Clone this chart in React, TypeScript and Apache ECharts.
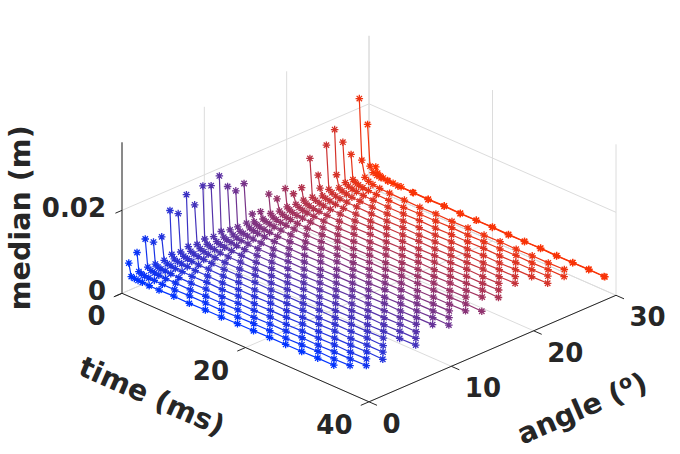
import React, { useEffect, useRef } from 'react';
import * as echarts from 'echarts';

// ---------------- data ----------------
const ANGLES = [0, 1, 2, 3, 4, 5, 6, 7, 8, 9, 10, 11, 12, 13, 14, 15, 16, 17, 18, 19, 20, 21, 22, 23, 24, 25, 26, 27, 28, 29, 30];

// two sampling grids (ms) used alternately by the lines
const TIMES_A = [1.1, 1.5, 2.0, 2.6, 3.3, 4.4, 6.0, 8.4, 10.9, 13.5, 16.1, 18.7, 21.3, 23.9, 26.5, 29.1, 31.7, 34.3, 36.9, 39.4];
const TIMES_B = [1.1, 1.4, 1.8, 2.3, 3.0, 3.9, 5.2, 7.2, 9.6, 12.2, 14.8, 17.4, 20.0, 22.6, 25.2, 27.8, 30.4, 33.0, 35.6, 38.2];
// which grid each angle uses (0 = A, 1 = B)
const TIME_GRID = [0, 1, 0, 1, 0, 1, 0, 1, 0, 1, 0, 1, 0, 1, 0, 1, 0, 1, 0, 1, 0, 1, 0, 1, 0, 1, 0, 1, 0, 0, 1];

// median values in mm, one row per angle
const MEDIAN_MM: number[][] = [
  [8.0, 5.0, 4.9, 4.8, 4.8, 4.7, 4.7, 4.8, 4.7, 4.8, 4.8, 4.9, 4.9, 5.0, 5.0, 5.0, 5.1, 5.1],
  [9.7, 5.3, 5.0, 4.9, 4.8, 4.8, 4.7, 4.7, 4.8, 4.8, 4.7, 4.8, 4.9, 4.9, 4.8, 4.9, 5.0, 4.9, 5.0],
  [12.1, 5.6, 5.1, 4.9, 4.8, 4.7, 4.7, 4.6, 4.7, 4.7, 4.8, 4.7, 4.8, 4.8, 4.9, 4.8, 4.9, 4.9, 5.0],
  [10.5, 5.4, 5.0, 4.8, 4.8, 4.7, 4.6, 4.6, 4.7, 4.6, 4.7, 4.7, 4.8, 4.7, 4.8, 4.8, 4.9, 4.8, 4.9],
  [10.9, 5.5, 5.0, 4.9, 4.7, 4.7, 4.6, 4.7, 4.6, 4.7, 4.6, 4.7, 4.7, 4.8, 4.7, 4.8, 4.8, 4.9, 4.8],
  [16.4, 6.0, 5.2, 4.9, 4.8, 4.7, 4.6, 4.6, 4.5, 4.6, 4.6, 4.7, 4.6, 4.7, 4.7, 4.8, 4.7, 4.8, 4.8],
  [14.8, 5.8, 5.1, 4.9, 4.7, 4.6, 4.6, 4.5, 4.6, 4.5, 4.6, 4.6, 4.7, 4.6, 4.7, 4.7, 4.8, 4.7],
  [18.5, 6.2, 5.3, 5.0, 4.8, 4.7, 4.6, 4.5, 4.5, 4.6, 4.5, 4.6, 4.6, 4.7, 4.6, 4.7, 4.7, 4.8],
  [15.2, 5.9, 5.2, 4.9, 4.7, 4.6, 4.5, 4.5, 4.6, 4.5, 4.6, 4.5, 4.6, 4.6, 4.7, 4.6, 4.7, 4.7, 4.8],
  [18.9, 6.3, 5.3, 5.0, 4.8, 4.6, 4.5, 4.5, 4.4, 4.5, 4.5, 4.6, 4.5, 4.6, 4.6, 4.7, 4.6, 4.7, 4.7],
  [18.1, 6.1, 5.2, 4.9, 4.7, 4.6, 4.5, 4.4, 4.5, 4.4, 4.5, 4.5, 4.6, 4.5, 4.6, 4.6, 4.7, 4.6],
  [19.6, 6.4, 5.3, 5.0, 4.8, 4.6, 4.5, 4.4, 4.4, 4.5, 4.4, 4.5, 4.5, 4.6, 4.5, 4.6, 4.6, 4.7],
  [16.2, 6.0, 5.1, 4.8, 4.6, 4.5, 4.4, 4.4, 4.5, 4.4, 4.5, 4.4, 4.5, 4.5, 4.6, 4.5, 4.6, 4.6],
  [14.3, 5.8, 5.0, 4.8, 4.6, 4.5, 4.4, 4.3, 4.4, 4.4, 4.3, 4.4, 4.4, 4.5, 4.4, 4.5, 4.5, 4.6, 4.5],
  [15.2, 5.9, 5.1, 4.8, 4.6, 4.5, 4.4, 4.3, 4.3, 4.4, 4.3, 4.4, 4.4, 4.5, 4.4, 4.5, 4.5, 4.6],
  [7.0, 5.3, 4.9, 4.7, 4.5, 4.4, 4.3, 4.3, 4.4, 4.3, 4.4, 4.3, 4.4, 4.4, 4.5, 4.4, 4.5, 4.5],
  [6.7, 5.2, 4.9, 4.7, 4.5, 4.4, 4.3, 4.2, 4.3, 4.3, 4.2, 4.3, 4.3, 4.4, 4.3, 4.4, 4.4, 4.5],
  [10.1, 5.6, 5.0, 4.7, 4.5, 4.4, 4.3, 4.2, 4.2, 4.3, 4.2, 4.3, 4.3, 4.4, 4.3, 4.4, 4.4, 4.5, 4.4],
  [8.1, 5.4, 4.9, 4.6, 4.5, 4.3, 4.2, 4.2, 4.3, 4.2, 4.3, 4.2, 4.3, 4.3, 4.4, 4.3, 4.4],
  [9.7, 5.5, 5.0, 4.7, 4.5, 4.4, 4.3, 4.2, 4.1, 4.2, 4.2, 4.3, 4.2, 4.3, 4.3, 4.4, 4.3, 4.4],
  [7.6, 5.3, 4.9, 4.6, 4.4, 4.3, 4.2, 4.1, 4.2, 4.1, 4.2, 4.2, 4.3, 4.2, 4.3, 4.3, 4.4, 4.3],
  [8.2, 5.4, 4.9, 4.6, 4.4, 4.3, 4.2, 4.1, 4.1, 4.2, 4.1, 4.2, 4.2, 4.3, 4.2, 4.3, 4.3, 4.4],
  [14.4, 5.3, 4.9, 4.6, 4.4, 4.3, 4.2, 4.1, 4.2, 4.1, 4.2, 4.1, 4.2, 4.2, 4.3, 4.2, 4.3],
  [9.5, 6.6, 5.0, 4.7, 4.5, 4.3, 4.2, 4.1, 4.0, 4.1, 4.1, 4.2, 4.1, 4.2, 4.2, 4.3, 4.2, 4.3],
  [15.9, 5.5, 5.0, 4.6, 4.4, 4.3, 4.2, 4.1, 4.0, 4.1, 4.0, 4.1, 4.1, 4.2, 4.1, 4.2, 4.2],
  [18.8, 8.1, 5.2, 4.8, 4.5, 4.3, 4.2, 4.1, 4.0, 4.0, 4.1, 4.0, 4.1, 4.1, 4.2, 4.1, 4.2, 4.2, 4.3],
  [14.9, 5.4, 4.9, 4.6, 4.4, 4.2, 4.1, 4.0, 4.0, 4.1, 4.0, 4.1, 4.1, 4.2, 4.1, 4.2, 4.2, 4.3],
  [11.1, 5.2, 4.8, 4.5, 4.3, 4.2, 4.1, 4.0, 3.9, 4.0, 4.0, 4.1, 4.0, 4.1, 4.1, 4.2, 4.1, 4.2, 4.2],
  [23.7, 9.1, 5.3, 4.7, 4.4, 4.2, 4.1, 4.0, 3.9, 4.0, 3.9, 4.0, 4.0, 4.1, 4.0, 4.1, 4.1, 4.2],
  [16.6, 6.8, 5.6, 5.3, 5.2, 5.1, 5.0, 5.0, 4.9, 5.0, 4.9, 5.0, 5.0, 4.9, 5.0, 5.0, 4.9, 5.0, 5.0, 5.0],
  [5.5, 4.2, 3.8, 3.6, 3.5, 3.4, 3.4, 3.3, 3.3, 3.4, 3.3, 3.3, 3.4, 3.3, 3.3, 3.4, 3.3, 3.3, 3.4, 3.3],
];

const TIME_TICKS = [0, 20, 40];
const ANGLE_TICKS = [0, 10, 20, 30];
const MEDIAN_TICKS = [0, 0.02];
const TIME_TICK_LABELS = ['0', '20', '40'];
const ANGLE_TICK_LABELS = ['0', '10', '20', '30'];
const MEDIAN_TICK_LABELS = ['0', '0.02'];

// ---------------- 3D box & view ----------------
const T_MAX = 40;
const A_MAX = 30;
const Z_MAX = 0.0364;
const W = 680;
const H = 454;
// orthographic view: screen vectors (u right, v up) of each full axis
const ORIGIN = [122, 160.7];
const T_VEC = [247, -108.5];
const A_VEC = [247, 106.5];
const Z_VEC = [0, 151];

function project(t: number, a: number, z: number): number[] {
  const tn = t / T_MAX;
  const an = a / A_MAX;
  const zn = z / Z_MAX;
  return [
    ORIGIN[0] + tn * T_VEC[0] + an * A_VEC[0] + zn * Z_VEC[0],
    ORIGIN[1] + tn * T_VEC[1] + an * A_VEC[1] + zn * Z_VEC[1],
  ];
}
// shift a projected point by screen pixels (dx right, dy down)
function shift(p: number[], dx: number, dy: number): number[] {
  return [p[0] + dx, p[1] - dy];
}

const FONT = 'DejaVu Sans';
const TEXT_COLOR = '#262626';
const GRID_COLOR = '#dcdcdc';
const STAR = 'path://M0,-5L0,5M-5,0L5,0M-3.6,-3.6L3.6,3.6M-3.6,3.6L3.6,-3.6';

function lineColor(a: number): string {
  const f = a / A_MAX;
  return `rgb(${Math.round(255 * f)}, 51, ${Math.round(255 * (1 - f))})`;
}

function buildOption() {
  const series: any[] = [];
  const seg = (p: number[], q: number[], color: string, width: number) => {
    series.push({
      type: 'line',
      data: [p, q],
      symbol: 'none',
      silent: true,
      clip: false,
      lineStyle: { color, width },
      z: 1,
    });
  };

  // grid lines: floor
  ANGLE_TICKS.forEach((a) => seg(project(0, a, 0), project(T_MAX, a, 0), GRID_COLOR, 1));
  TIME_TICKS.forEach((t) => seg(project(t, 0, 0), project(t, A_MAX, 0), GRID_COLOR, 1));
  // left back wall (time = 0)
  ANGLE_TICKS.forEach((a) => seg(project(0, a, 0), project(0, a, Z_MAX), GRID_COLOR, 1));
  MEDIAN_TICKS.forEach((z) => seg(project(0, 0, z), project(0, A_MAX, z), GRID_COLOR, 1));
  // right back wall (angle = 30)
  TIME_TICKS.forEach((t) => seg(project(t, A_MAX, 0), project(t, A_MAX, Z_MAX), GRID_COLOR, 1));
  MEDIAN_TICKS.forEach((z) => seg(project(0, A_MAX, z), project(T_MAX, A_MAX, z), GRID_COLOR, 1));

  // data lines, back to front
  for (let k = ANGLES.length - 1; k >= 0; k--) {
    const a = ANGLES[k];
    const times = TIME_GRID[k] === 0 ? TIMES_A : TIMES_B;
    const row = MEDIAN_MM[k];
    const col = lineColor(a);
    series.push({
      type: 'line',
      name: `${a}`,
      data: row.map((v, i) => project(times[i], a, v / 1000)),
      symbol: STAR,
      symbolSize: 7.5,
      showSymbol: true,
      showAllSymbol: true,
      silent: true,
      clip: false,
      lineStyle: { color: col, width: 1.2 },
      itemStyle: { color: col, borderColor: col, borderWidth: 1.3 },
      z: 2,
    });
  }

  // axis lines
  const AX = TEXT_COLOR;
  seg(project(0, 0, 0), project(T_MAX, 0, 0), AX, 1);
  seg(project(T_MAX, 0, 0), project(T_MAX, A_MAX, 0), AX, 1);
  seg(project(0, 0, 0), project(0, 0, Z_MAX), AX, 1);
  // ticks
  TIME_TICKS.forEach((t) => seg(project(t, 0, 0), project(t, -1.0, 0), AX, 1));
  ANGLE_TICKS.forEach((a) => seg(project(T_MAX, a, 0), project(T_MAX + 1.3, a, 0), AX, 1));
  MEDIAN_TICKS.forEach((z) => seg(project(0, 0, z), project(0, -0.8, z), AX, 1));

  const textSeries = (items: { value: number[]; name: string }[], label: any) => {
    series.push({
      type: 'scatter',
      data: items,
      symbol: 'circle',
      symbolSize: 0,
      silent: true,
      clip: false,
      itemStyle: { color: 'transparent' },
      label: {
        show: true,
        position: [0, 0],
        formatter: '{b}',
        fontFamily: FONT,
        fontWeight: 'bold',
        fontSize: 26,
        color: TEXT_COLOR,
        opacity: 1,
        textBorderWidth: 0,
        verticalAlign: 'middle',
        ...label,
      },
      z: 5,
    });
  };

  textSeries(
    TIME_TICKS.map((t, i) => ({ value: shift(project(t, 0, 0), -16.5, 23), name: TIME_TICK_LABELS[i] })),
    { align: 'right' }
  );
  textSeries(
    ANGLE_TICKS.map((a, i) => ({ value: shift(project(T_MAX, a, 0), 13.5, 22), name: ANGLE_TICK_LABELS[i] })),
    { align: 'left' }
  );
  textSeries(
    MEDIAN_TICKS.map((z, i) => ({ value: shift(project(0, 0, z), -16, -2.5), name: MEDIAN_TICK_LABELS[i] })),
    { align: 'right' }
  );

  // axis titles
  textSeries([{ value: shift(project(20, 0, 0), -93.5, 48.5), name: 'time (ms)' }], {
    align: 'center',
    fontSize: 28.6,
    rotate: -23.7,
  });
  textSeries([{ value: shift(project(0, 0, Z_MAX / 2), -102, 0), name: 'median (m)' }], {
    align: 'center',
    fontSize: 28.6,
    rotate: 90,
  });
  textSeries([{ value: shift(project(T_MAX, 15, 0), 89.5, 59.5), name: 'angle' }], {
    align: 'center',
    rotate: 23.3,
    formatter: '{n|angle (}{s|o}{n|)}',
    rich: {
      n: { fontFamily: FONT, fontWeight: 'bold', fontSize: 28.6, color: TEXT_COLOR, lineHeight: 34 },
      s: { fontFamily: FONT, fontWeight: 'bold', fontSize: 19, color: TEXT_COLOR, verticalAlign: 'top', lineHeight: 20 },
    },
  });

  return {
    animation: false,
    backgroundColor: '#ffffff',
    textStyle: { fontFamily: FONT },
    grid: { left: 0, right: 0, top: 0, bottom: 0 },
    xAxis: { type: 'value', min: 0, max: W, show: false },
    yAxis: { type: 'value', min: 0, max: H, show: false },
    series,
  };
}

export default function App() {
  const ref = useRef<HTMLDivElement>(null);
  useEffect(() => {
    if (!ref.current) return;
    const chart = echarts.init(ref.current, undefined, { renderer: 'svg' });
    chart.setOption(buildOption() as any);
    return () => chart.dispose();
  }, []);
  return (
    <div
      ref={ref}
      style={{ position: 'fixed', left: 0, top: 0, width: W, height: H, background: '#fff' }}
    />
  );
}
